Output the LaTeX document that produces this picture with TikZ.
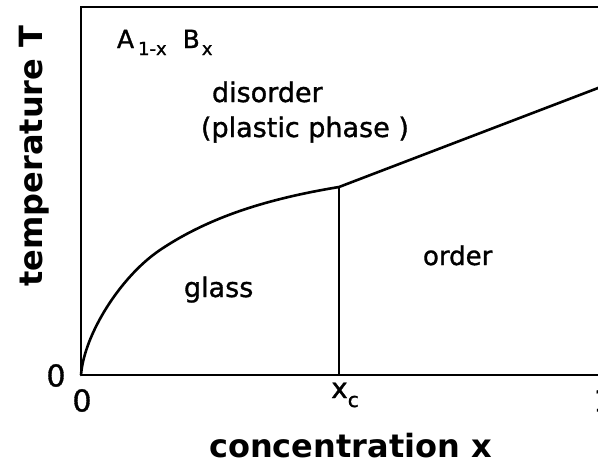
\documentclass[tikz,border=0pt]{standalone}
\usepackage{fontspec}
\setmainfont{DejaVu Sans}
\newfontfamily\lblfont[FakeBold=1.2]{DejaVu Sans}
\begin{document}
\begin{tikzpicture}[x=1pt,y=-1pt,
  frame/.style={line width=2pt,line join=miter},
  curveline/.style={line width=2.6pt,line cap=round,line join=round},
  lbl/.style={inner sep=0pt,outer sep=0pt,font=\lblfont\fontsize{27}{32}\selectfont},
  ticklbl/.style={inner sep=0pt,outer sep=0pt,font=\lblfont\fontsize{30}{32}\selectfont},
  axislbl/.style={inner sep=0pt,outer sep=0pt,text depth=0pt,font=\fontsize{32}{36}\selectfont\bfseries}]
\useasboundingbox (0,0) rectangle (598,464);
% frame
\coordinate (O) at (81,375);
\coordinate (TL) at (81,7);
\coordinate (TR) at (602,7);
\coordinate (BR) at (602,375);
\draw[frame] (TR) -- (TL) -- (O);
\draw[line width=2.8pt] (O) -- (BR);
% phase boundary
\coordinate (GM) at (160,250);
\coordinate (XC) at (339,187);
\coordinate (XCB) at (339,375);
\coordinate (RE) at (602,86.5);
\draw[curveline] (O) .. controls (84,335) and (120,277) .. (GM)
  .. controls (215,213) and (279,197) .. (XC) -- (RE);
\draw[line width=2.6pt] (XC) -- (XCB);
% labels
\node[lbl,anchor=base west,font=\lblfont\fontsize{25}{30}\selectfont] (comp) at (117,48)
  {A\hspace{4pt}\raisebox{-7pt}{\fontsize{18}{20}\selectfont 1-x}\hspace{16pt}B\hspace{2pt}\raisebox{-7pt}{\fontsize{18}{20}\selectfont x}};
\node[lbl,anchor=base west] (dis) at (212,102) {disorder};
\node[lbl,anchor=base west] (pl) at (201,137) {(plastic phase )};
\node[lbl,anchor=base west] (gl) at (184,297) {glass};
\node[lbl,anchor=base west,font=\lblfont\fontsize{26}{30}\selectfont] (ord) at (423,265) {order};
\node[ticklbl] (zy) at (56,375.5) {0};
\node[ticklbl] (zx) at (82,400.5) {0};
\node[ticklbl] (one) at (603,400.5) {1};
\node[inner sep=0pt,anchor=base west,font=\lblfont\fontsize{28}{30}\selectfont] (xc) at (331,398) {x\raisebox{-9pt}{\fontsize{20}{20}\selectfont c}};
\node[axislbl,anchor=base] (xlab) at (350.5,457) {concentration x};
\node[axislbl,anchor=base,rotate=90] (ylab) at (42,156) {temperature T};
\end{tikzpicture}
\end{document}
